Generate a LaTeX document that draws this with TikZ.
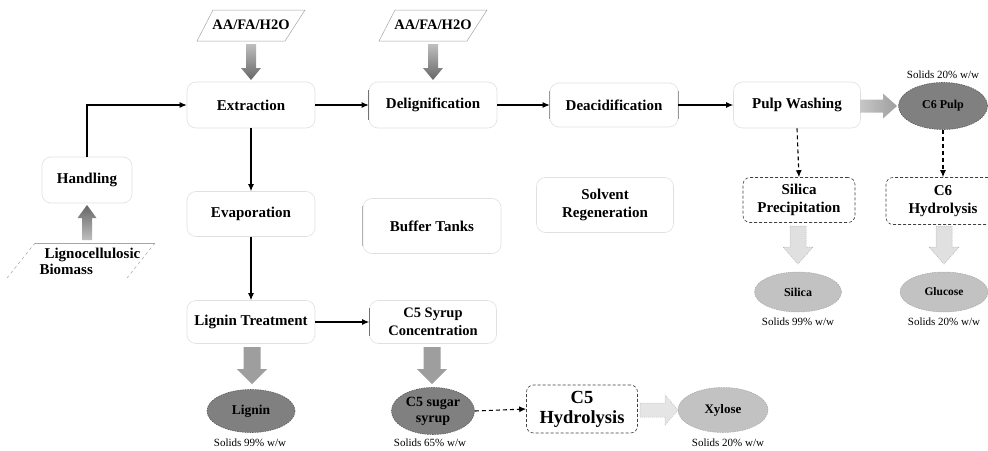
\documentclass[tikz,border=0pt]{standalone}
\usepackage{fontspec}
\setmainfont{Liberation Serif}
\usetikzlibrary{shapes.geometric,arrows.meta}

% fat block arrows: options, x centre, y start, y tip, shaft half, head half, head length
\newcommand{\vfat}[7]{\path[#1] ({#2-#5},#3) -- ({#2+#5},#3) -- ({#2+#5},{#4-(#7)}) -- ({#2+#6},{#4-(#7)}) -- (#2,#4) -- ({#2-#6},{#4-(#7)}) -- ({#2-#5},{#4-(#7)}) -- cycle;}
% options, y centre, x start, x tip, shaft half, head half, head length
\newcommand{\hfat}[7]{\path[#1] (#3,{#2-#5}) -- (#3,{#2+#5}) -- ({#4-(#7)},{#2+#5}) -- ({#4-(#7)},{#2+#6}) -- (#4,#2) -- ({#4-(#7)},{#2-#6}) -- ({#4-(#7)},{#2-#5}) -- cycle;}

\begin{document}
\begin{tikzpicture}[x=1pt,y=-1pt,
  lbl/.style={font=\fontsize{15}{18}\selectfont\bfseries,align=center},
  stage/.style={lbl,draw=black!12,line width=0.6pt,rounded corners=9pt,inner sep=0pt},
  dstage/.style={lbl,draw=black!75,dashed,dash pattern=on 3pt off 2pt,line width=0.6pt,rounded corners=7pt,inner sep=0pt},
  prod/.style={ellipse,inner sep=0pt,align=center,font=\fontsize{12}{15}\selectfont\bfseries},
  darkprod/.style={prod,fill=black!50,draw=black!65,dash pattern=on 1.5pt off 1pt,line width=0.6pt},
  lightprod/.style={prod,fill=black!24,draw=black!35,dash pattern=on 1.5pt off 1pt,line width=0.5pt},
  note/.style={font=\fontsize{11}{13}\selectfont},
  flow/.style={-{Latex[length=7pt,width=6pt]},line width=1.1pt,black},
  dflow/.style={flow,line width=1.1pt,dash pattern=on 4pt off 3pt},
  feed/.style={draw=black!35,line width=0.5pt}
]
\useasboundingbox[fill=white] (0,0) rectangle (988,450);

% ---------- process stages ----------
\node[stage,minimum width=90,minimum height=46] (hand) at (87,180) {Handling};
\node[stage,minimum width=128,minimum height=46] (ext) at (251,105) {Extraction};
\node[stage,minimum width=128,minimum height=45] (evap) at (251,214) {Evaporation};
\node[stage,minimum width=128,minimum height=43] (lt) at (251,322) {Lignin Treatment};
\node[stage,minimum width=128,minimum height=46] (delig) at (433,105) {Delignification};
\node[stage,minimum width=127,minimum height=43,font=\fontsize{14.5}{18}\selectfont\bfseries] (c5s) at (433,322) {C5 Syrup\\Concentration};
\node[stage,minimum width=138,minimum height=55] (buf) at (432,226) {Buffer Tanks};
\node[stage,minimum width=128,minimum height=44] (deac) at (614,105) {Deacidification};
\node[stage,minimum width=137,minimum height=55] (solv) at (605,205) {Solvent\\Regeneration};
\node[stage,minimum width=127,minimum height=46] (pulp) at (797,105) {Pulp Washing};
\node[dstage,minimum width=112,minimum height=45] (silp) at (799,200) {Silica\\Precipitation};
\node[dstage,minimum width=114,minimum height=47] (c6h) at (943,201) {C6\\Hydrolysis};
\node[dstage,minimum width=111,minimum height=48,font=\fontsize{18.5}{20}\selectfont\bfseries] (c5h) at (582,409) {C5\\Hydrolysis};

% darker side edges of some stage outlines
\draw[black!55,line width=0.6pt] ([yshift=-8pt]delig.north west) -- ([yshift=8pt]delig.south west);
\draw[black!55,line width=0.6pt] ([yshift=-8pt]c5s.north west) -- ([yshift=8pt]c5s.south west);
\draw[black!40,line width=0.6pt] ([yshift=-8pt]deac.north west) -- ([yshift=8pt]deac.south west);
\draw[black!40,line width=0.6pt] ([yshift=-8pt]deac.north east) -- ([yshift=8pt]deac.south east);
\draw[black!30,line width=0.6pt] ([yshift=-8pt]buf.north west) -- ([yshift=8pt]buf.south west);

% ---------- feeds ----------
\node[lbl,font=\fontsize{14.5}{16}\selectfont\bfseries] (aa1) at (251,25) {AA/FA/H2O};
\draw[feed] (213,10) -- (305,10) -- (285,41) -- (197,41) -- cycle;
\node[lbl,font=\fontsize{14.5}{16}\selectfont\bfseries] (aa2) at (433,25) {AA/FA/H2O};
\draw[feed] (395,10) -- (487,10) -- (467,41) -- (379,41) -- cycle;
\node[lbl,font=\fontsize{15}{16}\selectfont\bfseries,align=left,anchor=west] (bio) at (36,261) {\hspace*{5pt}Lignocellulosic\\Biomass};
\draw[feed] (35,243) -- (155,243);
\draw[feed,dashed] (155,243) -- (127,278) (7,278) -- (35,243);

% ---------- products ----------
\node[darkprod,minimum width=89,minimum height=47] (c6p) at (943,106) {C6 Pulp};
\node[darkprod,minimum width=88,minimum height=43,font=\fontsize{13.5}{15}\selectfont\bfseries] (lig) at (251,411) {Lignin};
\node[darkprod,minimum width=83,minimum height=47,font=\fontsize{14}{16}\selectfont\bfseries] (syr) at (433,411) {C5 sugar\\syrup};
\node[lightprod,minimum width=87,minimum height=40] (sil) at (798,292) {Silica};
\node[lightprod,minimum width=88,minimum height=40,font=\fontsize{11.5}{14}\selectfont\bfseries] (glu) at (944,292) {Glucose};
\node[lightprod,minimum width=90,minimum height=45,font=\fontsize{13}{15}\selectfont\bfseries] (xyl) at (723,410) {Xylose};

\node[note] (n1) at (943,75) {Solids 20\% w/w};
\node[note] (n2) at (798,322) {Solids 99\% w/w};
\node[note] (n3) at (944,322) {Solids 20\% w/w};
\node[note] (n4) at (250,443) {Solids 99\% w/w};
\node[note] (n5) at (430,443) {Solids 65\% w/w};
\node[note] (n6) at (728,443) {Solids 20\% w/w};

% ---------- main connectors ----------
\draw[flow] (hand.north) |- (ext.west);
\draw[flow] (ext.east) -- (delig.west);
\draw[flow] (delig.east) -- (deac.west);
\draw[flow] (deac.east) -- (pulp.west);
\draw[flow] (ext.south) -- (evap.north);
\draw[flow] (evap.south) -- (lt.north);
\draw[flow] (lt.east) -- (c5s.west);
\draw[dflow] (pulp.south) -- (silp.north);
\draw[dflow] (c6p.south) -- (c6h.north);
\draw[dflow] (syr.east) -- (c5h.west);

% ---------- block arrows ----------
\vfat{top color=black!25,bottom color=black!60}{251}{44}{80}{5}{10}{12}
\vfat{top color=black!25,bottom color=black!60}{433}{44}{80}{5}{10}{12}
\vfat{top color=black!60,bottom color=black!25}{87}{240}{205}{5}{9.5}{-13}
\vfat{fill=black!38}{252}{347}{384}{8.5}{15}{15}
\vfat{fill=black!38}{432}{347}{384}{8.5}{15}{15}
\hfat{left color=black!22,right color=black!38}{106}{860}{897}{6.5}{12.5}{14}
\vfat{fill=black!12,draw=black!30,dash pattern=on 1pt off 1pt,line width=0.5pt}{798}{226}{264}{8}{15}{17}
\vfat{fill=black!12,draw=black!30,dash pattern=on 1pt off 1pt,line width=0.5pt}{944}{226}{264}{8}{15}{17}
\hfat{fill=black!10,draw=black!25,dash pattern=on 1pt off 1pt,line width=0.5pt}{410}{640}{678}{7}{15}{13}
\end{tikzpicture}
\end{document}
